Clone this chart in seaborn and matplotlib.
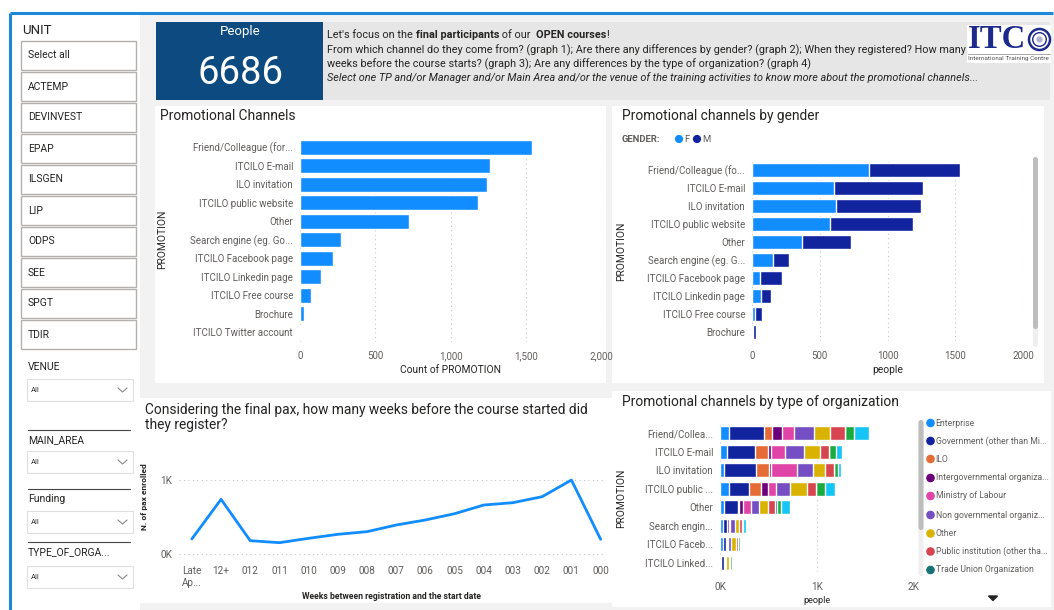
import matplotlib
matplotlib.use("Agg")
import matplotlib.pyplot as plt
from matplotlib.patches import Rectangle, FancyBboxPatch, Circle, Polygon
import numpy as np
import pandas as pd
import seaborn as sns

# ---------------- data ----------------
people_total = 6686

channels = ["Friend/Colleague (for...", "ITCILO E-mail", "ILO invitation",
            "ITCILO public website", "Other", "Search engine (eg. Go...",
            "ITCILO Facebook page", "ITCILO Linkedin page", "ITCILO Free course",
            "Brochure", "ITCILO Twitter account"]
channel_counts = [1541, 1263, 1243, 1183, 726, 270, 216, 137, 71, 24, 5]

gender_channels = ["Friend/Colleague (fo...", "ITCILO E-mail", "ILO invitation",
                   "ITCILO public website", "Other", "Search engine (eg. G...",
                   "ITCILO Facebook page", "ITCILO Linkedin page",
                   "ITCILO Free course", "Brochure"]
female = [863, 605, 619, 575, 369, 155, 59, 66, 22, 10]
male = [671, 656, 627, 612, 361, 118, 162, 74, 52, 19]

weeks = ["Late\nAp...", "12+", "012", "011", "010", "009", "008", "007",
         "006", "005", "004", "003", "002", "001", "000"]
pax_enrolled = [207, 743, 184, 157, 216, 270, 306, 396, 464, 549, 666, 698,
                779, 1004, 203]

org_channels = ["Friend/Collea...", "ITCILO E-mail", "ILO invitation",
                "ITCILO public ...", "Other", "Search engin...",
                "ITCILO Faceb...", "ITCILO Linked..."]
org_types = ["Enterprise", "Government (other than Ministry of Labour)", "ILO",
             "Intergovernmental organization", "Ministry of Labour",
             "Non governmental organization", "Other",
             "Public institution (other than Ministry)",
             "Trade Union Organization", "UN agency", "University"]
org_legend_labels = ["Enterprise", "Government (other than Mi...", "ILO",
                     "Intergovernmental organiza...", "Ministry of Labour",
                     "Non governmental organiz...", "Other",
                     "Public institution (other tha...",
                     "Trade Union Organization"]
org_enterprise = [93, 72, 41, 93, 41, 31, 31, 10]
org_government = [362, 290, 331, 207, 145, 41, 31, 31]
org_ilo = [83, 134, 134, 124, 14, 3, 0, 0]
org_intergov = [103, 31, 21, 72, 41, 21, 10, 10]
org_ministry = [124, 145, 269, 83, 83, 7, 10, 0]
org_ngo = [207, 196, 165, 145, 83, 48, 31, 10]
org_other = [165, 165, 124, 176, 93, 50, 52, 35]
org_public = [152, 93, 93, 93, 72, 31, 21, 10]
org_union = [0, 0, 0, 0, 21, 0, 0, 0]
org_un = [97, 72, 41, 93, 41, 10, 21, 21]
org_university = [155, 62, 31, 103, 93, 31, 10, 10]

units = ["Select all", "ACTEMP", "DEVINVEST", "EPAP", "ILSGEN", "LIP", "ODPS",
         "SEE", "SPGT", "TDIR"]
dropdown_titles = ["VENUE", "MAIN_AREA", "Funding", "TYPE_OF_ORGA..."]

# ---------------- style ----------------
sns.set_theme(style="white")
plt.rcParams["font.family"] = ["Roboto", "DejaVu Sans"]

W, H = 1054, 610
BLUE = "#118DFF"
DARK = "#12239E"
ORG_COLORS = ["#118DFF", "#12239E", "#E66C37", "#6B007B", "#E044A7",
              "#744EC2", "#D9B300", "#D64550", "#197278", "#1AAB40", "#15C6F4"]
TICK_C = "#605E5C"
TITLE_C = "#252423"

fig = plt.figure(figsize=(W / 100, H / 100), dpi=100)
fig.patch.set_facecolor("white")

bg = fig.add_axes([0, 0, 1, 1], zorder=0)
bg.set_xlim(0, W)
bg.set_ylim(H, 0)
bg.axis("off")
fig.canvas.draw()
renderer = fig.canvas.get_renderer()


def px_width(t):
    bb = t.get_window_extent(renderer=renderer)
    return bb.width * W / fig.bbox.width


def rect(x0, y0, x1, y1, **kw):
    bg.add_patch(Rectangle((x0, y0), x1 - x0, y1 - y0, **kw))


def panel_axes(x0, y0, x1, y1):
    return fig.add_axes([x0 / W, 1 - y1 / H, (x1 - x0) / W, (y1 - y0) / H],
                        zorder=2)


# canvas background and frame
rect(140, 13, W, H, facecolor="#F2F2F2", edgecolor="none")
rect(10, 13, 140, H, facecolor="white", edgecolor="none")
bg.plot([10, W - 1], [13, 13], color="#1E88D8", lw=2.2, solid_capstyle="butt")
bg.plot([10, 10], [13, H], color="#1E88D8", lw=2.2, solid_capstyle="butt")

# ---------------- left slicers ----------------
bg.text(22, 30, "UNIT", fontsize=9.5, color=TITLE_C, va="center", ha="left")
for i, u in enumerate(units):
    y0 = 41 + i * 31
    rect(21, y0, 136, y0 + 29, facecolor="white", edgecolor="#B3B0AD", lw=1.0)
    bg.text(28, y0 + 14.5, u, fontsize=7.5, color=TITLE_C, va="center")

dd_label_y = [367, 440, 499, 552]
dd_box_y = [379, 451, 511, 566]
for i, (t, ly, by) in enumerate(zip(dropdown_titles, dd_label_y, dd_box_y)):
    if i > 0:
        bg.plot([28, 130], [ly - 10, ly - 10], color="#444444", lw=0.8)
    bg.text(28, ly, t, fontsize=7.5, color=TITLE_C, va="center")
    rect(27, by, 133, by + 22, facecolor="white", edgecolor="#E1DFDD", lw=0.8)
    bg.text(31, by + 11, "All", fontsize=5.5, color="#333333", va="center")
    bg.plot([118, 122.5, 127], [by + 9, by + 13, by + 9], color="#8A8886",
            lw=0.8)

# ---------------- header ----------------
rect(156, 22, 323, 100, facecolor="#0C4A7F", edgecolor="none")
bg.text(240, 31, "People", fontsize=9.5, color="white", ha="center",
        va="center")
bg.text(240, 74, f"{people_total}", fontsize=27.5, color="white", ha="center",
        va="center")

rect(323, 22, 1050, 100, facecolor="#E6E6E6", edgecolor="none")
line2 = ("From which channel do they come from? (graph 1); Are there any "
         "differences by gender? (graph 2); When they registered? How many")
hdr = dict(fontsize=8, color="#252423", va="center", ha="left",
           family=["Roboto", "DejaVu Sans"])
t_line2 = bg.text(327, 50, line2, **hdr)
# scale the header font so the long question line fits beside the logo
hdr["fontsize"] = 8 * (966 - 327) / px_width(t_line2)
t_line2.set_fontsize(hdr["fontsize"])

t1 = bg.text(327, 35, "Let's focus on the ", **hdr)


def after(t, s, **kw):
    x = t.get_position()[0] + px_width(t)
    return bg.text(x, t.get_position()[1], s, **{**hdr, **kw})


t2 = after(t1, "final participants", fontweight="bold")
t3 = after(t2, " of our  ")
t4 = after(t3, "OPEN courses", fontweight="bold")
after(t4, "!")
bg.text(327, 64, "weeks before the course starts? (graph 3); Are any "
        "differences by the type of organization? (graph 4)", **hdr)
bg.text(327, 78, "Select one TP and/or Manager and/or Main Area and/or the venue "
        "of the training activities to know more about the promotional "
        "channels...", style="italic", **hdr)

# logo
rect(967, 25, 1051, 63, facecolor="white", edgecolor="none")
t_itc = bg.text(968, 40, "ITC", fontsize=20, fontweight="bold",
                color="#1C2A8C", family="Liberation Serif", va="center",
                ha="left")
t_itc.set_fontsize(20 * 58 / px_width(t_itc))
bg.add_patch(Circle((1039.5, 39.5), 10.5, facecolor="white",
                    edgecolor="#1C2A8C", lw=1.8))
bg.add_patch(Circle((1039.5, 39.5), 6.8, facecolor="white",
                    edgecolor="#1C2A8C", lw=1.0))
bg.add_patch(Circle((1039.5, 39.5), 3.2, facecolor="#1C2A8C",
                    edgecolor="none", alpha=0.35))
bg.plot([968, 1050], [54, 54], color="#9A9A9A", lw=0.6)
t_itc2 = bg.text(968, 58.5, "International Training Centre", fontsize=3.2,
                 color="#555555", va="center", ha="left")
t_itc2.set_fontsize(3.2 * 80 / px_width(t_itc2))

# ---------------- cards ----------------
rect(155, 106, 606, 383, facecolor="white", edgecolor="none")
rect(612, 106, 1044, 383, facecolor="white", edgecolor="none")
rect(140, 398, 613, 603, facecolor="white", edgecolor="none")
rect(612, 391, 1051, 607, facecolor="white", edgecolor="none")

TITLE_KW = dict(fontsize=9.9, color=TITLE_C, va="center", ha="left")
bg.text(160, 116, "Promotional Channels", **TITLE_KW)
bg.text(622, 116, "Promotional channels by gender", **TITLE_KW)
bg.text(145, 410, "Considering the final pax, how many weeks before the course "
        "started did", **TITLE_KW)
bg.text(145, 425, "they register?", **TITLE_KW)
bg.text(622, 402, "Promotional channels by type of organization", **TITLE_KW)


def style_hbar(ax, xmax, ticks, ticklabels, xlabel, ylab_x_px, x0_px, x1_px):
    ax.set_xlim(0, xmax)
    ax.set_xticks(ticks)
    ax.set_xticklabels(ticklabels)
    for s in ax.spines.values():
        s.set_visible(False)
    ax.tick_params(axis="both", length=0, colors=TICK_C, labelsize=7.0)
    ax.tick_params(axis="x", pad=7)
    ax.tick_params(axis="y", pad=5)
    ax.grid(axis="x", color="#C8C6C4", lw=0.8, linestyle=(0, (1, 3)))
    ax.set_axisbelow(True)
    ax.set_facecolor("none")
    ax.set_xlabel(xlabel, fontsize=7.4, color=TITLE_C, labelpad=3)
    ax.set_ylabel("PROMOTION", fontsize=7.4, color=TITLE_C)
    ax.yaxis.set_label_coords((ylab_x_px - x0_px) / (x1_px - x0_px), 0.5)


# ---- graph 1: promotional channels ----
ax1 = panel_axes(300, 138, 601, 341.5)
df1 = pd.DataFrame({"PROMOTION": channels, "count": channel_counts})
sns.barplot(data=df1, x="count", y="PROMOTION", order=channels, color=BLUE,
            saturation=1, width=0.8, orient="h", ax=ax1)
style_hbar(ax1, 2000, [0, 500, 1000, 1500, 2000],
           ["0", "500", "1,000", "1,500", "2,000"], "Count of PROMOTION",
           167, 300, 601)

# ---- graph 2: by gender (stacked: total drawn first, female on top) ----
ax2 = panel_axes(752, 161, 1023, 341)
df2 = pd.DataFrame({"PROMOTION": gender_channels, "F": female, "M": male})
df2["total"] = df2["F"] + df2["M"]
sns.barplot(data=df2, x="total", y="PROMOTION", order=gender_channels,
            color=DARK, saturation=1, width=0.78, orient="h", ax=ax2)
sns.barplot(data=df2, x="F", y="PROMOTION", order=gender_channels,
            color=BLUE, saturation=1, width=0.78, orient="h", ax=ax2)
style_hbar(ax2, 2000, [0, 500, 1000, 1500, 2000],
           ["0", "500", "1000", "1500", "2000"], "people", 626, 752, 1023)

bg.text(622, 139, "GENDER:", fontsize=6.8, fontweight="bold", color=TICK_C,
        va="center")
bg.add_patch(Circle((679, 139), 3.4, color=BLUE))
bg.text(684, 139, "F", fontsize=6.8, color=TICK_C, va="center")
bg.add_patch(Circle((697, 139), 3.4, color=DARK))
bg.text(702, 139, "M", fontsize=6.8, color=TICK_C, va="center")
bg.add_patch(FancyBboxPatch((1033, 157), 5, 190,
                            boxstyle="round,pad=0,rounding_size=2.5",
                            facecolor="#EFEFEF", edgecolor="none"))
bg.add_patch(FancyBboxPatch((1033, 157), 5, 172,
                            boxstyle="round,pad=0,rounding_size=2.5",
                            facecolor="#BDBDBD", edgecolor="none"))

# ---- graph 3: weeks before start ----
ax3 = panel_axes(179, 455, 605, 560)
df3 = pd.DataFrame({"week": weeks, "pax": pax_enrolled})
sns.lineplot(data=df3, x="week", y="pax", sort=False, color=BLUE, lw=2.0,
             ax=ax3)
ax3.set_xlim(-0.44, 14.15)
ax3.set_ylim(-77, 1342)
ax3.set_yticks([0, 1000])
ax3.set_yticklabels(["0K", "1K"])
for s in ax3.spines.values():
    s.set_visible(False)
ax3.grid(axis="y", color="#C8C6C4", lw=0.8, linestyle=(0, (1, 3)))
ax3.grid(axis="x", visible=False)
ax3.set_facecolor("none")
ax3.tick_params(axis="both", length=0, colors=TICK_C, labelsize=7.2)
ax3.tick_params(axis="x", pad=4)
ax3.tick_params(axis="y", pad=5)
for lbl in ax3.get_xticklabels():
    lbl.set_verticalalignment("top")
    lbl.set_horizontalalignment("center")
    lbl.set_linespacing(1.25)
ax3.set_xlabel("Weeks between registration and the start date", fontsize=6.2,
               color=TITLE_C, fontweight="bold", labelpad=3)
ax3.set_ylabel("N. of pax enrolled", fontsize=6.0, color=TITLE_C,
               fontweight="bold")
ax3.yaxis.set_label_coords((148 - 179) / (605 - 179), 0.6)

# ---- graph 4: by type of organization (stacked via cumulative layers) ----
ax4 = panel_axes(720, 424, 913.3, 572)
layers = [org_enterprise, org_government, org_ilo, org_intergov, org_ministry,
          org_ngo, org_other, org_public, org_union, org_un, org_university]
df4 = pd.DataFrame({name: vals for name, vals in zip(org_types, layers)},
                   index=org_channels)
cum = df4.cumsum(axis=1)
for name, col in reversed(list(zip(org_types, ORG_COLORS))):
    d = pd.DataFrame({"PROMOTION": org_channels, "people": cum[name].values})
    sns.barplot(data=d, x="people", y="PROMOTION", order=org_channels,
                color=col, saturation=1, width=0.76, orient="h", ax=ax4)
style_hbar(ax4, 2000, [0, 1000, 2000], ["0K", "1K", "2K"], "people",
           626, 720, 913.3)
ax4.tick_params(axis="x", labelsize=7.2)
ax4.xaxis.label.set_fontsize(6.6)

legend_y = [423, 441, 459, 478, 496, 515, 533.5, 551.5, 570]
for lbl, col, y in zip(org_legend_labels, ORG_COLORS[:9], legend_y):
    bg.add_patch(Circle((930.5, y), 3.6, color=col))
    bg.text(935.5, y, lbl, fontsize=6.2, color=TICK_C, va="center",
            ha="left")
bg.add_patch(FancyBboxPatch((918.5, 420), 5, 156,
                            boxstyle="round,pad=0,rounding_size=2.5",
                            facecolor="#EFEFEF", edgecolor="none"))
bg.add_patch(FancyBboxPatch((918.5, 420), 5, 110,
                            boxstyle="round,pad=0,rounding_size=2.5",
                            facecolor="#BDBDBD", edgecolor="none"))
bg.add_patch(Polygon([[988.5, 596], [997.5, 596], [993, 600.5]],
                     closed=True, color="#252423"))

fig.savefig("out.png", dpi=100, facecolor=fig.get_facecolor())
